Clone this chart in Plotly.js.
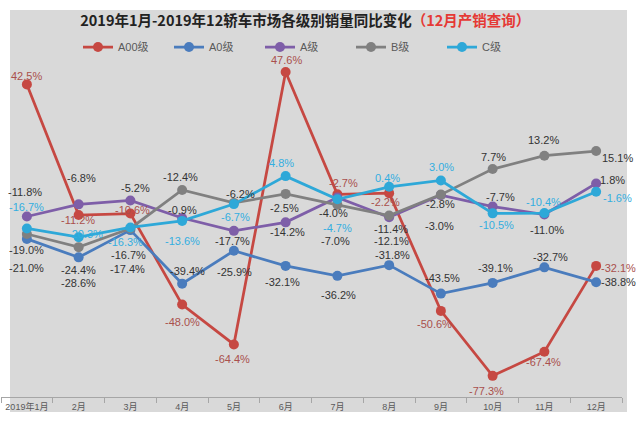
<!DOCTYPE html>
<html>
<head>
<meta charset="utf-8">
<script src="https://cdn.plot.ly/plotly-3.0.1.min.js"></script>
<style>html,body{margin:0;padding:0;background:#fff;}#chart{width:640px;height:422px;}</style>
</head>
<body>
<div id="chart"></div>
<script>
// ---- data ----
const months = ['2019年1月','2月','3月','4月','5月','6月','7月','8月','9月','10月','11月','12月'];
const seriesNames = ['A00级','A0级','A级','B级','C级'];
const a00 = [42.5, -11.2, -10.6, -48.0, -64.4, 47.6, -2.7, -2.2, -50.6, -77.3, -67.4, -32.1];
const a0  = [-21.0, -28.6, -17.4, -39.4, -25.9, -32.1, -36.2, -31.8, -43.5, -39.1, -32.7, -38.8];
const aCls = [-11.8, -6.8, -5.2, -12.4, -17.7, -14.2, -4.0, -12.1, -3.0, -7.7, -11.0, 1.8];
const bCls = [-19.0, -24.4, -16.7, -0.9, -6.2, -2.5, -7.0, -11.4, -2.8, 7.7, 13.2, 15.1];
const cCls = [-16.7, -20.3, -16.3, -13.6, -6.7, 4.8, -4.7, 0.4, 3.0, -10.5, -10.4, -1.6];
const allSeries = [a00, a0, aCls, bCls, cCls];

// ---- styles ----
const lineColors = ['#c64842', '#4a7cbd', '#7e5ea8', '#808080', '#2ea8d8'];
const labelColors = ['#a9504c', '#333333', '#333333', '#333333', '#33aee0'];
// label offsets in pixels [dx, dy(down)] per series per month
const offsets = [
  [[0,-8],[-1,5],[2,-4],[0,17],[-1,15],[1,-12],[6,-11],[-4,9],[-6,13],[-6,15],[-1,10],[22,2]],
  [[0,29],[0,26],[-3,39],[5,-13],[1,21],[-3,16],[1,19],[3,-10],[2,-16],[3,-15],[6,-10],[22,0]],
  [[-2,-25],[3,-26],[5,-12],[-2,-41],[-1,10],[2,10],[-4,15],[2,24],[-1,31],[8,-10],[3,15],[16,-3]],
  [[0,16],[0,23],[-2,27],[0,20],[7,-9],[-1,14],[-2,36],[2,13],[0,9],[1,-12],[-1,-16],[21,7]],
  [[0,-21],[7,-3],[-5,15],[0,20],[2,13],[-4,-13],[0,29],[-2,-9],[1,-14],[4,12],[-1,-11],[21,6]]
];

const FONT = '"Liberation Sans", Arial, "Noto Sans CJK SC", sans-serif';

const traces = allSeries.map((vals, i) => ({
  type: 'scatter',
  mode: 'lines+markers',
  name: seriesNames[i],
  x: months,
  y: vals,
  line: {color: lineColors[i], width: 2.75},
  marker: {color: lineColors[i], size: 10},
  cliponaxis: false,
  hoverinfo: 'skip'
}));

const annotations = [];
allSeries.forEach((vals, i) => {
  vals.forEach((v, j) => {
    annotations.push({
      xref: 'x', yref: 'y', x: months[j], y: v,
      text: v.toFixed(1) + '%',
      showarrow: false,
      xshift: offsets[i][j][0],
      yshift: -offsets[i][j][1],
      font: {family: FONT, size: 11, color: labelColors[i]}
    });
  });
});

const layout = {
  width: 640, height: 422,
  margin: {l: 1, r: 18, t: 54, b: 25, autoexpand: false},
  paper_bgcolor: '#ffffff',
  plot_bgcolor: 'rgba(0,0,0,0)',
  font: {family: FONT, size: 11, color: '#595959'},
  title: {
    text: '2019年1月-2019年12轿车市场各级别销量同比变化<span style="color:#e53935">（12月产销查询）</span>',
    font: {family: '"Noto Sans CJK SC", sans-serif', size: 14.5, color: '#222222', weight: 'bold'},
    xref: 'container', yref: 'container',
    x: 0.477, xanchor: 'center',
    y: 1 - 21/422, yanchor: 'middle'
  },
  showlegend: true,
  legend: {
    orientation: 'h',
    xref: 'container', yref: 'container',
    x: 78/640, xanchor: 'left',
    y: 1 - 47/422, yanchor: 'middle',
    bgcolor: 'rgba(0,0,0,0)',
    font: {family: FONT, size: 11, color: '#595959'},
    itemwidth: 30,
    entrywidth: 46, entrywidthmode: 'pixels',
    traceorder: 'normal'
  },
  xaxis: {
    type: 'category',
    range: [-0.5, 11.5],
    showgrid: false,
    zeroline: false,
    showline: true,
    linecolor: '#a6a6a6',
    linewidth: 1,
    ticks: 'outside',
    tickson: 'boundaries',
    ticklen: 5,
    tickcolor: '#a6a6a6',
    tickangle: 0,
    tickfont: {family: FONT, size: 9, color: '#595959'},
    ticklabelstandoff: 1,
    fixedrange: true
  },
  yaxis: {
    range: [-86, 55],
    visible: false,
    showgrid: false,
    zeroline: false,
    fixedrange: true
  },
  shapes: [
    {type: 'rect', xref: 'paper', yref: 'paper', layer: 'below',
     x0: (10-1)/621, x1: (627-1)/621, y0: (397-412)/343, y1: (397-10)/343,
     fillcolor: '#d9d9d9', line: {width: 0}}
  ],
  annotations: annotations
};

Plotly.newPlot('chart', traces, layout, {displayModeBar: false, staticPlot: true});
</script>
</body>
</html>
